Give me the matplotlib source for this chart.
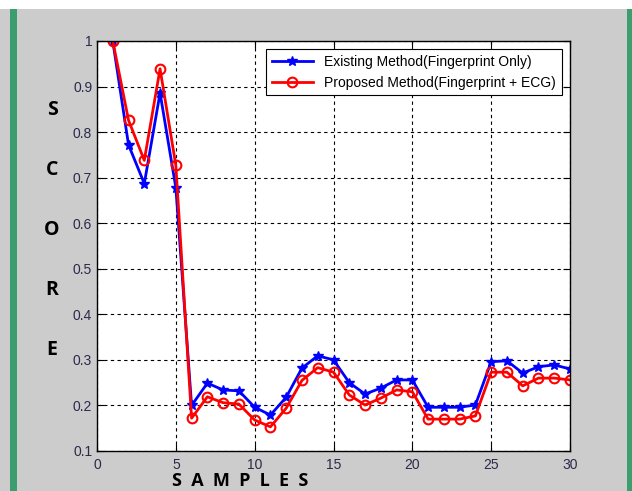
import matplotlib
matplotlib.use("Agg")
import matplotlib.pyplot as plt
from matplotlib.patches import Rectangle

samples = list(range(1, 31))
existing = [1.0, 0.772, 0.687, 0.886, 0.678, 0.200, 0.249, 0.234, 0.232, 0.196,
            0.179, 0.218, 0.282, 0.309, 0.300, 0.250, 0.225, 0.238, 0.256, 0.256,
            0.196, 0.196, 0.196, 0.201, 0.296, 0.298, 0.271, 0.285, 0.289, 0.280]
proposed = [1.0, 0.826, 0.738, 0.939, 0.727, 0.172, 0.219, 0.206, 0.203, 0.168,
            0.153, 0.194, 0.255, 0.283, 0.273, 0.223, 0.201, 0.216, 0.234, 0.230,
            0.170, 0.170, 0.170, 0.177, 0.273, 0.273, 0.243, 0.260, 0.260, 0.256]
xticks = [0, 5, 10, 15, 20, 25, 30]
yticks = [0.1, 0.2, 0.3, 0.4, 0.5, 0.6, 0.7, 0.8, 0.9, 1]
ylabel_letters = ["S", "C", "O", "R", "E"]

plt.rcParams['font.family'] = ['Liberation Sans', 'DejaVu Sans']

fig = plt.figure(figsize=(6.32, 4.91), dpi=100)
fig.patch.set_facecolor('#cccccc')

# white strip on top and green side borders
fig.add_artist(Rectangle((0, 1 - 9 / 491), 1, 9 / 491, transform=fig.transFigure,
                         facecolor='white', edgecolor='none'))
fig.add_artist(Rectangle((10 / 632, 0), 7 / 632, 1 - 9 / 491, transform=fig.transFigure,
                         facecolor='#3c9e6f', edgecolor='none'))
fig.add_artist(Rectangle((627 / 632, 0), 5 / 632, 1 - 9 / 491, transform=fig.transFigure,
                         facecolor='#3c9e6f', edgecolor='none'))

ax = fig.add_axes([97 / 632, 40 / 491, 473 / 632, 410 / 491])
ax.set_facecolor('white')
ax.plot(samples, existing, color='#0000ff', marker='*', markersize=7, linewidth=2,
        label='Existing Method(Fingerprint Only)')
ax.plot(samples, proposed, color='#ff0000', marker='o', markersize=7, mfc='none',
        mew=1.5, linewidth=2, label='Proposed Method(Fingerprint + ECG)')

ax.set_xlim(0, 30)
ax.set_ylim(0.1, 1)
ax.set_xticks(xticks)
ax.set_yticks(yticks)
ax.set_yticklabels([f"{v:g}" for v in yticks])
ax.grid(True, color='black', linestyle=(0, (3, 3)), linewidth=0.8)
ax.tick_params(direction='in', top=True, right=True, length=5, labelsize=10,
               colors='black', labelcolor='#2a2a4a')
ax.tick_params(axis='x', pad=5)
for s in ax.spines.values():
    s.set_linewidth(1)

leg = ax.legend(loc='upper right', fontsize=10, fancybox=False, framealpha=1,
                edgecolor='black', borderaxespad=0.6, handlelength=3)
leg.get_frame().set_linewidth(0.8)

for i, letter in enumerate(ylabel_letters):
    fig.text(52 / 632, 1 - (110 + 60 * i) / 491, letter, fontsize=14, fontweight='bold',
             family='Open Sans', ha='center', va='center')
fig.text(240 / 632, 1 - 481 / 491, "S  A  M  P  L  E  S", fontsize=13, fontweight='bold',
         family='Open Sans', ha='center', va='center')

fig.savefig("out.png", dpi=100, facecolor=fig.get_facecolor())
